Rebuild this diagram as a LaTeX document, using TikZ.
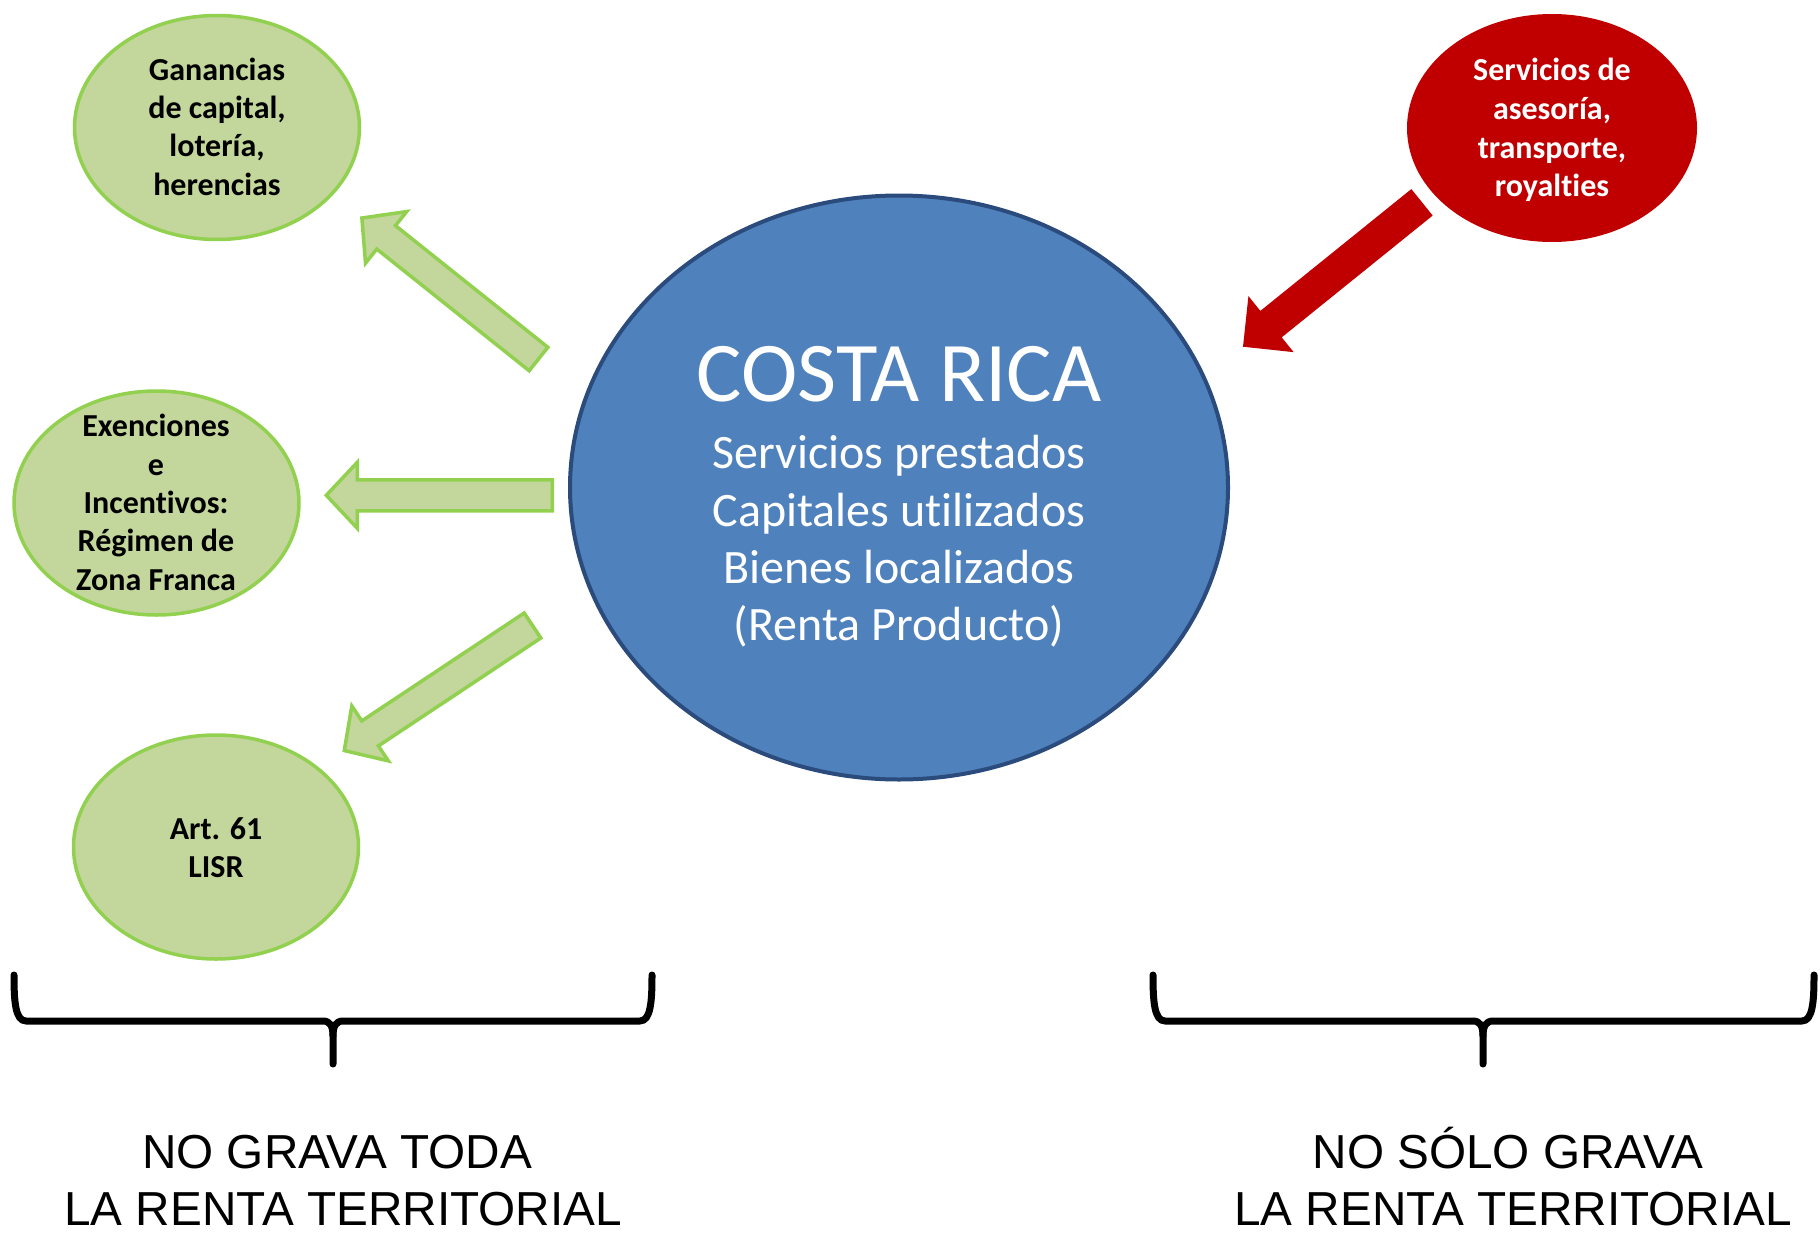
\documentclass[tikz,border=0pt]{standalone}
\usepackage{fontspec}
\setmainfont[Ligatures=NoCommon]{Carlito}
\newfontfamily\arialf{Liberation Sans}
\usetikzlibrary{shapes.geometric}
\definecolor{gfill}{HTML}{C3D69B}
\definecolor{gline}{HTML}{92D050}
\definecolor{bfill}{HTML}{4F81BD}
\definecolor{bline}{HTML}{2A4B7C}
\definecolor{rfill}{HTML}{C00000}
\tikzset{
  gell/.style={ellipse, draw=gline, fill=gfill, line width=3.5pt, inner sep=0pt, outer sep=0pt, minimum width=285pt, minimum height=224pt},
  rell/.style={ellipse, fill=rfill, inner sep=0pt, outer sep=0pt, minimum width=290pt, minimum height=228pt},
  bell/.style={ellipse, draw=bline, fill=bfill, line width=4pt, inner sep=0pt, outer sep=0pt, minimum width=658pt, minimum height=584pt},
  gtxt/.style={anchor=base, inner sep=0pt, font=\fontsize{32}{38}\selectfont\bfseries, text=black},
  rtxt/.style={anchor=base, inner sep=0pt, font=\fontsize{32}{38}\selectfont\bfseries, text=white},
  btxt/.style={anchor=base, inner sep=0pt, font=\fontsize{48}{57}\selectfont, text=white},
  bigtxt/.style={anchor=base, inner sep=0pt, font=\fontsize{85}{90}\selectfont, text=white},
  bottxt/.style={anchor=base, inner sep=0pt, font=\arialf\fontsize{47.7}{56}\selectfont, text=black},
  garrow/.style={draw=gline, fill=gfill, line width=3.5pt, line join=miter},
  rarrow/.style={fill=rfill},
  bracestyle/.style={draw=black, line width=7pt, line cap=round, line join=round}
}
% block arrow: #1 style, #2 tail coordinate, #3 angle, #4 length, #5 half shaft, #6 half head, #7 head length
\newcommand\blockarrow[7]{%
  \begin{scope}[shift={(#2)}, rotate=#3]
    \path[#1] (0,-#5) -- (#4-#7,-#5) -- (#4-#7,-#6) -- (#4,0) -- (#4-#7,#6) -- (#4-#7,#5) -- (0,#5) -- cycle;
  \end{scope}}
\begin{document}
\begin{tikzpicture}[x=1pt, y=-1pt]
\useasboundingbox (0,0) rectangle (1820,1239);

% ellipses
\node[gell] (g1) at (217,127.5) {};
\node[gell] (g2) at (156.5,503) {};
\node[gell] (g3) at (216,847) {};
\node[rell] (r1) at (1552,128) {};
\node[bell] (cr) at (899,487.5) {};

% texts
\foreach \t/\y [count=\i] in {Ganancias/80.5, {de capital,}/118.7, {lotería,}/156.9, herencias/195.1}
  \node[gtxt] (g1l\i) at (217,\y) {\t};
\foreach \t/\y [count=\i] in {Exenciones/436.7, e/475, Incentivos:/513.3, Régimen de/551.7, Zona Franca/590}
  \node[gtxt] (g2l\i) at (156,\y) {\t};
\foreach \t/\y [count=\i] in {Art. 61/839.3, LISR/877.3}
  \node[gtxt] (g3l\i) at (216,\y) {\t};
\foreach \t/\y [count=\i] in {Servicios de/80.7, {asesoría,}/119, {transporte,}/158, royalties/196}
  \node[rtxt] (r1l\i) at (1552,\y) {\t};
\node[bigtxt] (crt) at (899,401.7) {COSTA RICA};
\foreach \t/\y [count=\i] in {Servicios prestados/468.3, Capitales utilizados/526.7, Bienes localizados/583.3, (Renta Producto)/640.7}
  \node[btxt] (crl\i) at (899,\y) {\t};

% arrows
\coordinate (a1) at (538.5,359);
\coordinate (a2) at (552.3,495.3);
\coordinate (a3) at (532.5,625.5);
\coordinate (a4) at (1422,202.3);
\blockarrow{garrow}{a1}{141.4}{226}{15}{33}{31}
\blockarrow{garrow}{a2}{180}{226}{15.5}{33}{31}
\blockarrow{garrow}{a3}{213.6}{226}{15}{33}{31}
\blockarrow{rarrow}{a4}{218.9}{230}{17}{36}{36}

% braces
\coordinate (lbL) at (14,975);
\coordinate (lbR) at (652,975);
\coordinate (lbM) at (333,1064);
\coordinate (rbL) at (1153,975);
\coordinate (rbR) at (1814,975);
\coordinate (rbM) at (1483,1064);
\draw[bracestyle] (lbL) .. controls (14,1000) and (15,1021) .. (26,1021) -- (323,1021) .. controls (330,1021) and (333,1026) .. (333,1036) -- (lbM);
\draw[bracestyle] (lbR) .. controls (652,1000) and (651,1021) .. (640,1021) -- (343,1021) .. controls (336,1021) and (333,1026) .. (333,1036);
\draw[bracestyle] (rbL) .. controls (1153,1000) and (1154,1021) .. (1165,1021) -- (1473,1021) .. controls (1480,1021) and (1483,1026) .. (1483,1036) -- (rbM);
\draw[bracestyle] (rbR) .. controls (1814,1000) and (1813,1021) .. (1802,1021) -- (1493,1021) .. controls (1486,1021) and (1483,1026) .. (1483,1036);

% bottom labels
\node[bottxt] (ll1) at (337,1168) {NO GRAVA TODA};
\node[bottxt] (ll2) at (343,1225) {LA RENTA TERRITORIAL};
\node[bottxt] (rl1) at (1508,1168) {NO SÓLO GRAVA};
\node[bottxt] (rl2) at (1513,1225) {LA RENTA TERRITORIAL};
\end{tikzpicture}
\end{document}
